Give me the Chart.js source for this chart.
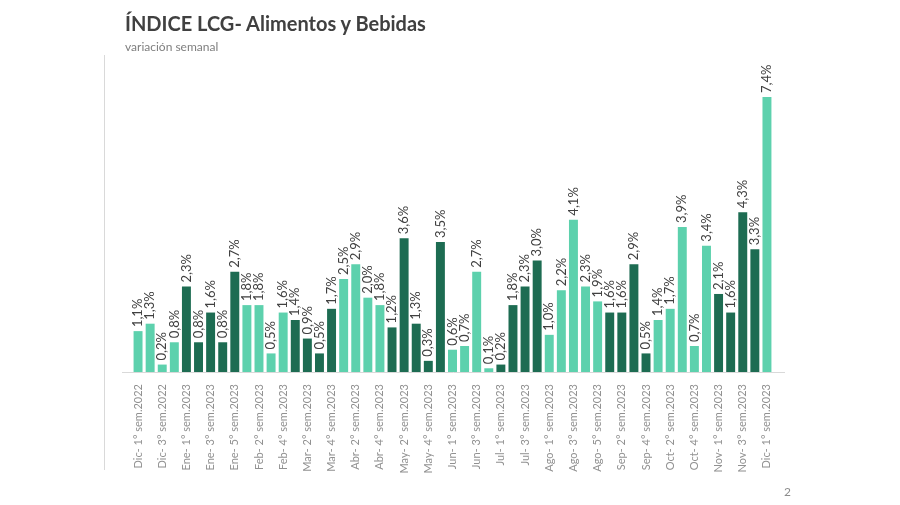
<!DOCTYPE html>
<html>
<head>
<meta charset="utf-8">
<script src="https://cdn.jsdelivr.net/npm/chart.js@4/dist/chart.umd.min.js"></script>
<style>
  body { margin: 0; background: #fff; }
  #wrap { position: relative; width: 900px; height: 505px; }
  #title { position: absolute; left: 125px; top: 11px; font: 700 20px Lato, sans-serif; color: #404040; }
  #sub { position: absolute; left: 125px; top: 39px; font: 12px Lato, sans-serif; color: #7f7f7f; }
  #vline { position: absolute; left: 104px; top: 55px; width: 1px; height: 415px; background: #d9d9d9; }
  #page { position: absolute; left: 784px; top: 484px; font: 12px Lato, sans-serif; color: #8c8c8c; }
</style>
</head>
<body>
<div id="wrap">
  <canvas id="canvas" width="900" height="505"></canvas>
  <div id="title">ÍNDICE LCG- Alimentos y Bebidas</div>
  <div id="sub">variación semanal</div>
  <div id="vline"></div>
  <div id="page">2</div>
</div>
<script>
// weekly labels (month + week number + year)
const months = ['Dic', 'Dic', 'Dic', 'Dic',
    'Ene', 'Ene', 'Ene', 'Ene', 'Ene',
    'Feb', 'Feb', 'Feb', 'Feb',
    'Mar', 'Mar', 'Mar', 'Mar',
    'Abr', 'Abr', 'Abr', 'Abr',
    'May', 'May', 'May', 'May', 'May',
    'Jun', 'Jun', 'Jun', 'Jun',
    'Jul', 'Jul', 'Jul', 'Jul',
    'Ago', 'Ago', 'Ago', 'Ago', 'Ago',
    'Sep', 'Sep', 'Sep', 'Sep',
    'Oct', 'Oct', 'Oct', 'Oct', 'Oct',
    'Nov', 'Nov', 'Nov', 'Nov',
    'Dic'];
const weekNum = [1, 2, 3, 4,
    1, 2, 3, 4, 5,
    1, 2, 3, 4,
    1, 2, 3, 4,
    1, 2, 3, 4,
    1, 2, 3, 4, 5,
    1, 2, 3, 4,
    1, 2, 3, 4,
    1, 2, 3, 4, 5,
    1, 2, 3, 4,
    1, 2, 3, 4, 5,
    1, 2, 3, 4,
    1];
const years = ['2022', '2022', '2022', '2022'].concat(new Array(49).fill('2023'));

// weekly variation %
const values = [1.1, 1.3, 0.2, 0.8,
    2.3, 0.8, 1.6, 0.8, 2.7,
    1.8, 1.8, 0.5, 1.6,
    1.4, 0.9, 0.5, 1.7,
    2.5, 2.9, 2.0, 1.8,
    1.2, 3.6, 1.3, 0.3, 3.5,
    0.6, 0.7, 2.7, 0.1,
    0.2, 1.8, 2.3, 3.0,
    1.0, 2.2, 4.1, 2.3, 1.9,
    1.6, 1.6, 2.9, 0.5,
    1.4, 1.7, 3.9, 0.7, 3.4,
    2.1, 1.6, 4.3, 3.3,
    7.4];

const lightColor = '#5dd1ad';
const darkColor = '#1d6c52';

const labels = months.map((m, i) => m + '- ' + weekNum[i] + '° sem.' + years[i]);

// alternate shade every time the month changes
let shade = 0;
const barColors = months.map((m, i) => {
    if (i > 0 && m !== months[i - 1]) shade = 1 - shade;
    return shade ? darkColor : lightColor;
});

const valueLabels = {
    id: 'valueLabels',
    afterDatasetsDraw(chart) {
        const ctx = chart.ctx;
        const meta = chart.getDatasetMeta(0);
        ctx.save();
        ctx.fillStyle = '#404040';
        ctx.font = '13px Lato, sans-serif';
        ctx.textAlign = 'left';
        ctx.textBaseline = 'middle';
        meta.data.forEach((bar, i) => {
            ctx.save();
            ctx.translate(bar.x, bar.y - 4);
            ctx.rotate(-Math.PI / 2);
            ctx.fillText(values[i].toFixed(1).replace('.', ',') + '%', 0, 0);
            ctx.restore();
        });
        // light baseline, a bit wider than the bars
        const a = chart.chartArea;
        ctx.strokeStyle = '#d9d9d9';
        ctx.lineWidth = 1;
        ctx.beginPath();
        ctx.moveTo(a.left - 10, a.bottom + 0.5);
        ctx.lineTo(a.right + 12, a.bottom + 0.5);
        ctx.stroke();
        ctx.restore();
    }
};

const data = {
    labels: labels,
    datasets: [{
        data: values,
        backgroundColor: barColors,
        categoryPercentage: 1,
        barPercentage: 0.74
    }]
};

const config = {
    type: 'bar',
    data: data,
    options: {
        responsive: false,
        animation: false,
        layout: { padding: { left: 132, right: 127, top: 58, bottom: 0 } },
        plugins: {
            legend: { display: false },
            tooltip: { enabled: false }
        },
        scales: {
            x: {
                grid: { display: false },
                border: { display: false },
                afterFit: s => { s.height = 133; },
                ticks: {
                    autoSkip: false,
                    maxRotation: 90,
                    minRotation: 90,
                    padding: 4,
                    color: '#919191',
                    font: { family: 'Lato', size: 11 },
                    callback: function (val, i) {
                        return i % 2 === 0 ? labels[i] : '';
                    }
                }
            },
            y: {
                display: false,
                min: 0,
                max: 8.45
            }
        }
    },
    plugins: [valueLabels]
};

const chart = new Chart(document.getElementById('canvas'), config);
</script>
</body>
</html>
